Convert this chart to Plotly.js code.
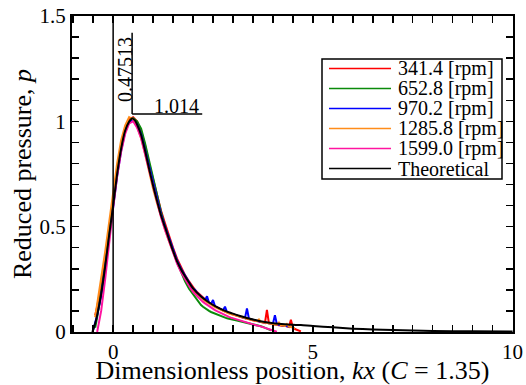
<!DOCTYPE html>
<html>
<head>
<meta charset="utf-8">
<script src="https://cdn.plot.ly/plotly-3.0.1.min.js"></script>
<style>html,body{margin:0;padding:0;background:#fff}#chart{width:526px;height:385px}</style>
</head>
<body>
<div id="chart"></div>
<script>
// shared dimensionless-position grid for the measured curves
const kx = [-0.55,-0.5,-0.45,-0.4,-0.3,-0.2,-0.1,0,0.1,0.2,0.3,0.4,0.5,0.6,0.7,0.8,0.9,1.0,1.1,1.2,1.3,1.4,1.5,1.6,1.7,1.8,1.9,
  2.0,2.05,2.1,2.15,2.2,2.25,2.3,2.35,2.4,2.45,2.5,2.55,2.6,2.65,2.7,2.75,2.8,2.85,2.9,2.95,
  3.0,3.05,3.1,3.15,3.2,3.25,3.3,3.35,3.4,3.45,3.5,3.55,3.6,3.65,3.7,3.75,3.8,3.85,3.9,3.95,
  4.0,4.05,4.1,4.15,4.2,4.25,4.3,4.35,4.4,4.45,4.5,4.55,4.6,4.65,4.7];

const p341 = [null,null,0.08,0.12,0.22,0.35,0.5,0.63,0.77,0.88,0.96,1.01,1.02,1.0,0.955,0.885,0.8,0.72,0.645,0.575,0.515,0.455,0.4,0.348,0.305,0.27,0.24,
  0.21,0.2,0.19,0.18,0.17,0.161,0.155,0.147,0.14,0.134,0.128,0.122,0.118,0.111,0.107,0.102,0.097,0.095,0.09,0.086,
  0.084,0.08,0.077,0.075,0.071,0.068,0.066,0.063,0.06,0.058,0.055,0.053,0.052,0.049,0.047,0.046,0.043,0.105,0.041,0.039,
  0.037,0.036,0.034,0.033,0.03,0.028,0.03,0.026,0.024,0.058,0.02,0.014,0.01,0.006,0.003];

const p652 = [null,null,0.02,0.07,0.19,0.32,0.48,0.62,0.76,0.87,0.955,1.0,1.015,1.0,0.965,0.895,0.81,0.725,0.645,0.57,0.5,0.44,0.38,0.33,0.285,0.24,0.205,
  0.178,0.165,0.152,0.14,0.128,0.12,0.112,0.108,0.1,0.095,0.091,0.087,0.082,0.078,0.074,0.071,0.068,0.065,0.063,0.06,
  0.058,0.056,0.054,0.052,0.05,0.048,0.046,0.044,0.042,0.04,0.038,0.035,0.033,0.03,0.027,0.024,0.02,0.016,0.012,0.008,
  null,null,null,null,null,null,null,null,null,null,null,null,null,null,null];

const p970 = [null,0.01,0.04,0.08,0.17,0.30,0.45,0.59,0.74,0.86,0.95,0.995,1.01,0.985,0.94,0.865,0.785,0.705,0.63,0.56,0.5,0.445,0.39,0.34,0.3,0.265,0.236,
  0.205,0.2,0.186,0.178,0.166,0.16,0.151,0.17,0.139,0.133,0.152,0.122,0.117,0.112,0.107,0.103,0.12,0.095,0.091,0.088,
  0.084,0.081,0.078,0.075,0.072,0.069,0.066,0.112,0.062,0.06,0.057,0.055,0.053,0.051,0.049,0.047,0.045,0.043,0.042,0.04,
  0.039,0.08,0.036,0.034,0.033,0.031,0.03,0.028,0.026,0.023,null,null,null,null,null];

const p1285 = [null,null,0.07,0.13,0.25,0.38,0.52,0.66,0.80,0.91,0.98,1.02,1.01,0.975,0.92,0.845,0.76,0.68,0.61,0.545,0.485,0.43,0.375,0.33,0.29,0.258,0.228,
  0.2,0.19,0.18,0.171,0.162,0.155,0.148,0.141,0.135,0.129,0.124,0.118,0.113,0.108,0.104,0.099,0.095,0.092,0.088,0.085,
  0.082,0.079,0.076,0.073,0.07,0.068,0.065,0.063,0.061,0.058,0.056,0.054,0.052,0.06,0.048,0.046,0.045,0.043,0.041,0.04,
  0.038,0.036,0.035,0.045,0.032,0.031,0.029,0.038,0.026,0.024,0.021,0.018,null,null,null];

const p1599 = [null,null,null,0.0,0.1,0.25,0.43,0.59,0.74,0.855,0.94,0.99,1.0,0.97,0.92,0.845,0.765,0.685,0.61,0.545,0.485,0.43,0.375,0.325,0.285,0.25,0.22,
  0.19,0.18,0.17,0.16,0.151,0.143,0.136,0.129,0.122,0.116,0.11,0.104,0.099,0.094,0.089,0.084,0.08,0.076,0.072,0.068,
  0.065,0.061,0.058,0.055,0.052,0.049,0.046,0.044,0.041,0.039,0.036,0.034,0.031,0.029,0.026,0.024,0.021,0.018,0.015,0.012,
  0.008,0.004,0.001,null,null,null,null,null,null,null,null,null,null,null,null];

// theoretical curve
const thX = [-0.52,-0.45,-0.4,-0.3,-0.2,-0.1,0,0.1,0.2,0.3,0.4,0.475,0.55,0.6,0.7,0.8,0.9,1.0,1.1,1.2,1.3,1.4,1.5,1.6,1.7,1.8,1.9,2.0,2.2,2.4,2.6,2.8,3.0,3.2,3.4,3.6,3.8,4.0,4.3,4.7,5.0,5.5,6.0,6.5,7.0,7.5,8.0,9.0,10.0];
const thP = [0,0.04,0.08,0.18,0.31,0.46,0.60,0.75,0.87,0.955,0.998,1.014,1.003,0.985,0.935,0.86,0.775,0.695,0.622,0.553,0.497,0.44,0.385,0.335,0.297,0.265,0.235,0.207,0.168,0.14,0.118,0.1,0.087,0.075,0.064,0.055,0.048,0.042,0.037,0.033,0.028,0.022,0.016,0.012,0.009,0.007,0.005,0.003,0.002];

const names = ['341.4 [rpm]','652.8 [rpm]','970.2 [rpm]','1285.8 [rpm]','1599.0 [rpm]','Theoretical'];
const colors = ['#ff0000','#0a8a0a','#0000ff','#ff8c1a','#ff14a0','#000000'];
const peakX = 0.47513, peakP = 1.014;
const xTicks = [0,5,10];

const series = [p341,p652,p970,p1285,p1599];
const traces = series.map((p,i)=>({x:kx,y:p,type:'scatter',mode:'lines',name:names[i],
  line:{color:colors[i],width:2},connectgaps:false,showlegend:false,hoverinfo:'skip'}));
traces.push({x:thX,y:thP,type:'scatter',mode:'lines',name:names[5],
  line:{color:'#000',width:2,shape:'spline',smoothing:0.6},showlegend:false,hoverinfo:'skip'});

const L=72,R=513,T=16,B=332;
const fx = px => (px-L)/(R-L);
const fy = py => (B-py)/(B-T);
const FONT = 'Liberation Serif';

const shapes = [
  {type:'line',xref:'x',yref:'y',x0:0,x1:0,y0:0,y1:1.5,line:{color:'#000',width:1.5}},
  {type:'line',xref:'x',yref:'y',x0:peakX,x1:peakX,y0:1.035,y1:1.42,line:{color:'#000',width:1.5}},
  {type:'line',xref:'x',yref:'y',x0:peakX,x1:2.23,y0:1.035,y1:1.035,line:{color:'#000',width:1.5}},
  {type:'rect',xref:'paper',yref:'paper',x0:fx(322),x1:fx(502),y0:fy(179),y1:fy(59),fillcolor:'#fff',line:{color:'#000',width:1.5}}
];
const annotations = [
  {xref:'x',yref:'y',x:0.28,y:1.245,text:String(peakX),textangle:-90,showarrow:false,font:{family:FONT,size:20,color:'#000'}},
  {xref:'x',yref:'y',x:1.59,y:1.075,text:peakP.toFixed(3),showarrow:false,font:{family:FONT,size:20,color:'#000'}}
];
names.forEach((n,i)=>{
  const yy = fy(68.5+20*i);
  shapes.push({type:'line',xref:'paper',yref:'paper',x0:fx(329),x1:fx(391),y0:yy,y1:yy,line:{color:colors[i],width:1.6}});
  annotations.push({xref:'paper',yref:'paper',x:fx(396),y:yy,xanchor:'left',yanchor:'middle',text:n,showarrow:false,
    font:{family:FONT,size:20,color:'#000'}});
});

const axisCommon = {showline:true,linewidth:2,linecolor:'#000',mirror:'allticks',ticks:'inside',ticklen:7,tickwidth:1.5,tickcolor:'#000',
  showgrid:false,zeroline:false,tickfont:{family:FONT,size:21,color:'#000'}};

const layout = {
  width:526,height:385,margin:{l:L,r:526-R,t:T,b:385-B},
  font:{family:FONT,size:20,color:'#000'},
  paper_bgcolor:'#fff',plot_bgcolor:'#fff',showlegend:false,
  xaxis:Object.assign({},axisCommon,{range:[-1.03,10.01],tickmode:'array',tickvals:xTicks,
    minor:{dtick:0.5,tick0:0,ticks:'inside',ticklen:7,tickwidth:1.5,tickcolor:'#000'},
    title:{text:'Dimensionless position, <i>kx</i> (<i>C</i> = 1.35)',font:{family:FONT,size:26,color:'#000'},standoff:7}}),
  yaxis:Object.assign({},axisCommon,{range:[0,1.5],dtick:0.5,tick0:0,
    minor:{dtick:0.1,tick0:0,ticks:'inside',ticklen:7,tickwidth:1.5,tickcolor:'#000'},
    title:{text:'Reduced pressure, <i>p</i>',font:{family:FONT,size:26,color:'#000'},standoff:0}}),
  shapes:shapes,annotations:annotations
};
Plotly.newPlot('chart',traces,layout,{displayModeBar:false,staticPlot:true});
</script>
</body>
</html>
